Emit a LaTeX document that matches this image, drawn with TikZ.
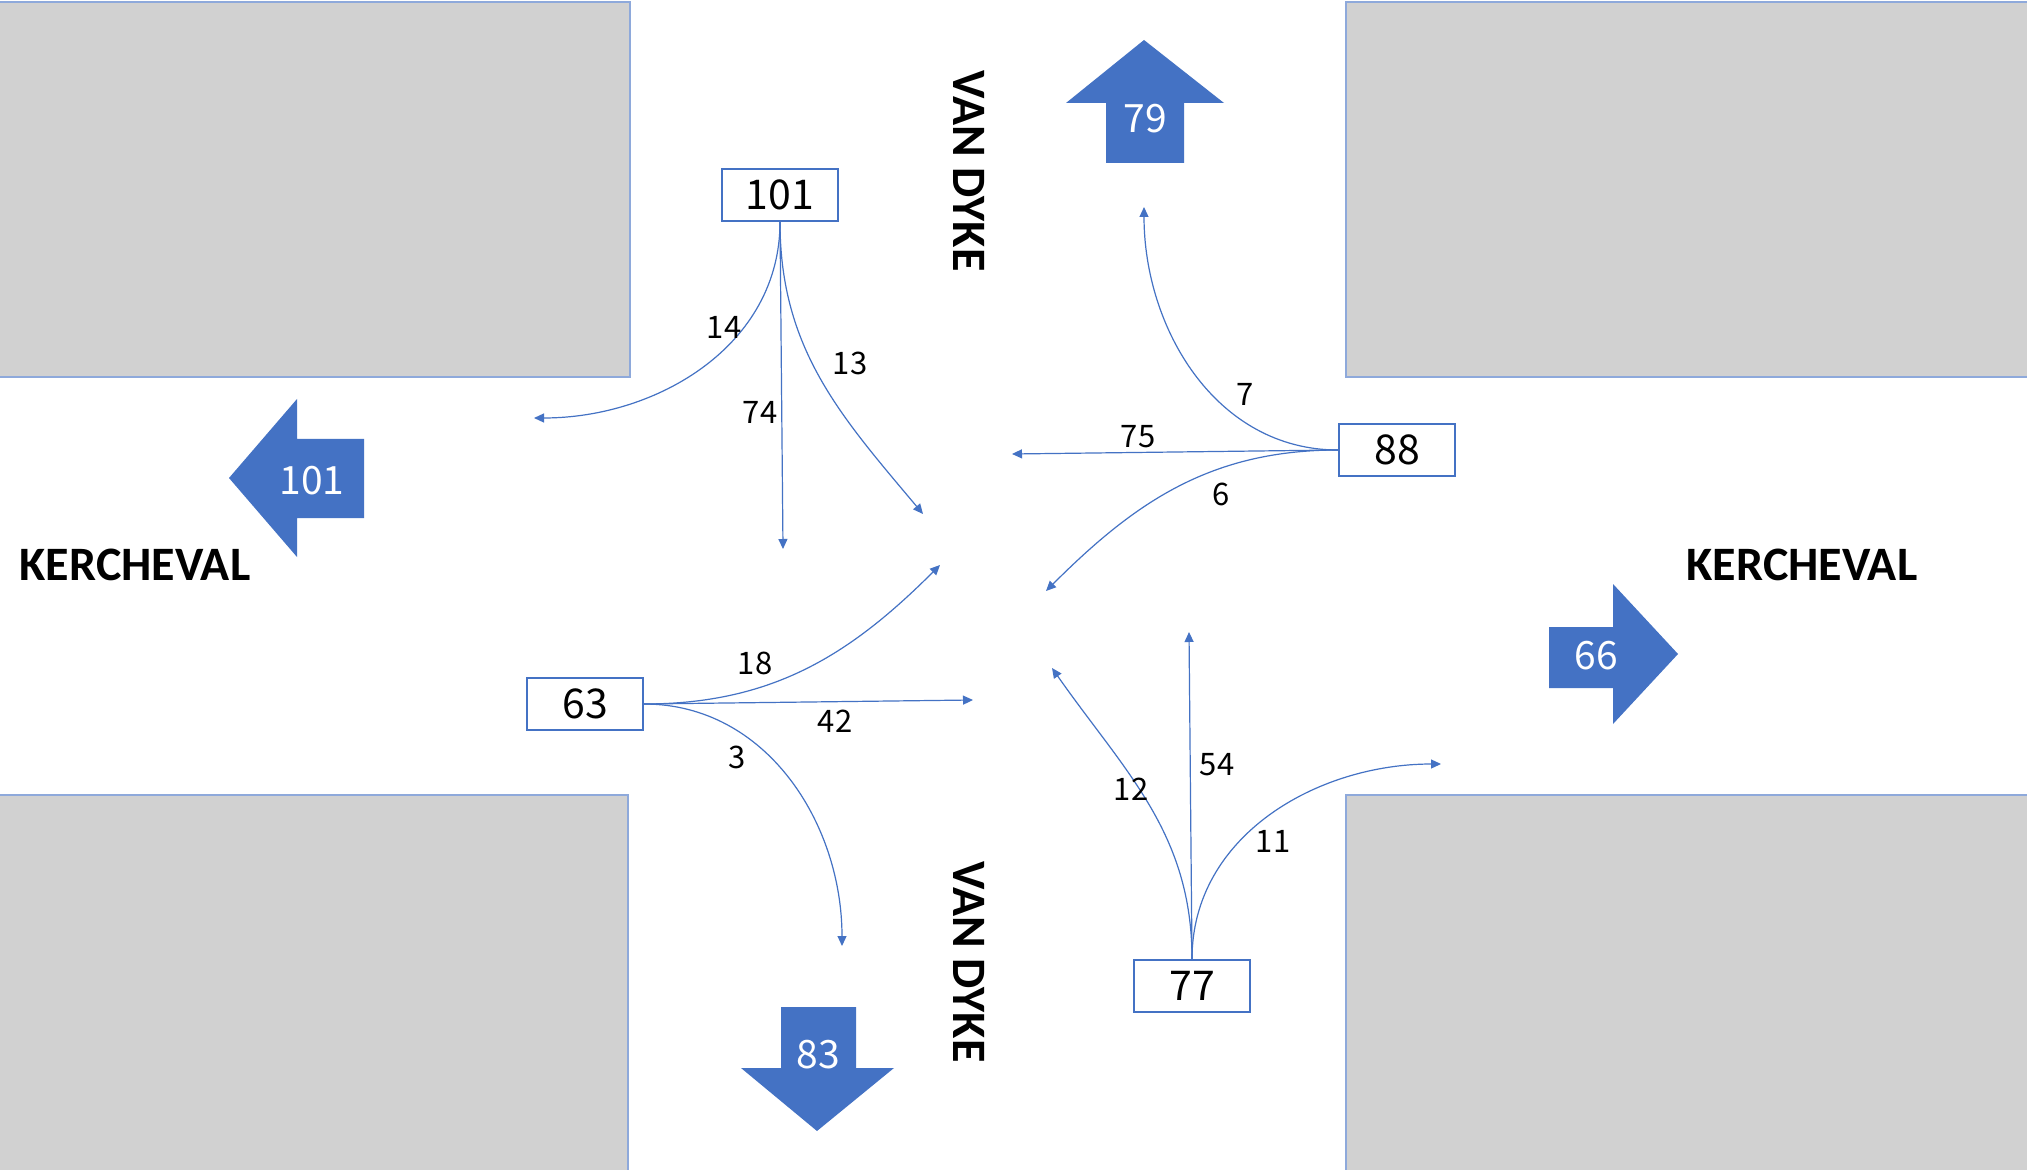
\documentclass[tikz,border=0pt]{standalone}
\usepackage{fontspec}
\setmainfont{Noto Sans CJK SC}
\newfontfamily\streetfont{Carlito}
\usetikzlibrary{arrows.meta}
\definecolor{lineblue}{HTML}{4472C4}
\definecolor{arrowblue}{HTML}{4472C4}
\definecolor{blockgray}{HTML}{D1D1D1}
\definecolor{blockedge}{HTML}{8EA9DB}
\tikzset{
  block/.style={fill=blockgray, draw=blockedge, line width=0.6pt},
  countbox/.style={draw=lineblue, line width=1pt, fill=white, minimum width=58pt, minimum height=26pt, inner sep=0pt, font=\fontsize{20.5}{24}\selectfont},
  conn/.style={draw=lineblue, line width=0.6pt, -{Triangle[length=5pt,width=4.5pt]}},
  flowlabel/.style={inner sep=0pt, font=\fontsize{15.5}{18}\selectfont},
  bigarrow/.style={fill=arrowblue, draw=none},
  bigtext/.style={text=white, inner sep=0pt, font=\fontsize{19.5}{22}\selectfont},
  street/.style={inner sep=0pt, font=\streetfont\bfseries\fontsize{24}{28}\selectfont},
}
\begin{document}
\begin{tikzpicture}[x=0.5pt,y=-0.5pt]
\useasboundingbox (0,0) rectangle (2027,1170);
\fill[white] (0,0) rectangle (2027,1170);

% city blocks
\draw[block] (-2,2) rectangle (630,377);
\draw[block] (1346,2) rectangle (2029,377);
\draw[block] (-2,795) rectangle (628,1172);
\draw[block] (1346,795) rectangle (2029,1172);

% big direction arrows
\fill[bigarrow] (1144,40) -- (1224,103) -- (1184,103) -- (1184,163) -- (1106,163) -- (1106,103) -- (1066,103) -- cycle;
\node[bigtext] (a79) at (1145,119) {79};
\fill[bigarrow] (229,478) -- (297,399) -- (297,439) -- (364,439) -- (364,518) -- (297,518) -- (297,557) -- cycle;
\node[bigtext] (a101) at (312,481) {101};
\fill[bigarrow] (1678,654) -- (1613,584) -- (1613,627) -- (1549,627) -- (1549,688) -- (1613,688) -- (1613,724) -- cycle;
\node[bigtext] (a66) at (1596,656) {66};
\fill[bigarrow] (817,1131) -- (894,1068) -- (856,1068) -- (856,1007) -- (781,1007) -- (781,1068) -- (741,1068) -- cycle;
\node[bigtext] (a83) at (818,1055) {83};

% street names
\node[street] (kl) at (135,565) {KERCHEVAL};
\node[street] (kr) at (1802,565) {KERCHEVAL};
\node[street, rotate=-90] (vt) at (969,171) {VAN DYKE};
\node[street, rotate=-90] (vb) at (969,962) {VAN DYKE};

% count boxes
\node[countbox] (n101) at (780,195) {101};
\node[countbox] (n88) at (1397,450) {88};
\node[countbox] (n63) at (585,704) {63};
\node[countbox] (n77) at (1192,986) {77};

% arrow end points
\coordinate (e14) at (534,418);
\coordinate (e74) at (783,549);
\coordinate (e13) at (923,514);
\coordinate (e7) at (1144,207);
\coordinate (e75) at (1012,454);
\coordinate (e6) at (1046,591);
\coordinate (e18) at (940,565);
\coordinate (e42) at (973,700);
\coordinate (e3) at (842,946);
\coordinate (e12) at (1052,668);
\coordinate (e54) at (1189,632);
\coordinate (e11) at (1441,764);

% connectors
\draw[conn] (n101.south) to[out=-90,in=0] (e14);
\draw[conn] (n101.south) -- (e74);
\draw[conn] (n101.south) to[out=-90,in=130] (e13);
\draw[conn] (n88.west) to[out=180,in=-90] (e7);
\draw[conn] (n88.west) -- (e75);
\draw[conn] (n88.west) to[out=180,in=45] (e6);
\draw[conn] (n63.east) to[out=0,in=-135] (e18);
\draw[conn] (n63.east) -- (e42);
\draw[conn] (n63.east) to[out=0,in=90] (e3);
\draw[conn] (n77.north) to[out=90,in=-55] (e12);
\draw[conn] (n77.north) -- (e54);
\draw[conn] (n77.north) to[out=90,in=180] (e11);

% flow labels
\node[flowlabel] (l14) at (724,327) {14};
\node[flowlabel] (l74) at (760,412) {74};
\node[flowlabel] (l13) at (850,363) {13};
\node[flowlabel] (l7) at (1245,394) {7};
\node[flowlabel] (l75) at (1138,437) {75};
\node[flowlabel] (l6) at (1221,494) {6};
\node[flowlabel] (l18) at (755,663) {18};
\node[flowlabel] (l42) at (835,721) {42};
\node[flowlabel] (l3) at (737,757) {3};
\node[flowlabel] (l12) at (1131,789) {12};
\node[flowlabel] (l54) at (1217,765) {54};
\node[flowlabel] (l11) at (1273,841) {11};
\end{tikzpicture}
\end{document}
